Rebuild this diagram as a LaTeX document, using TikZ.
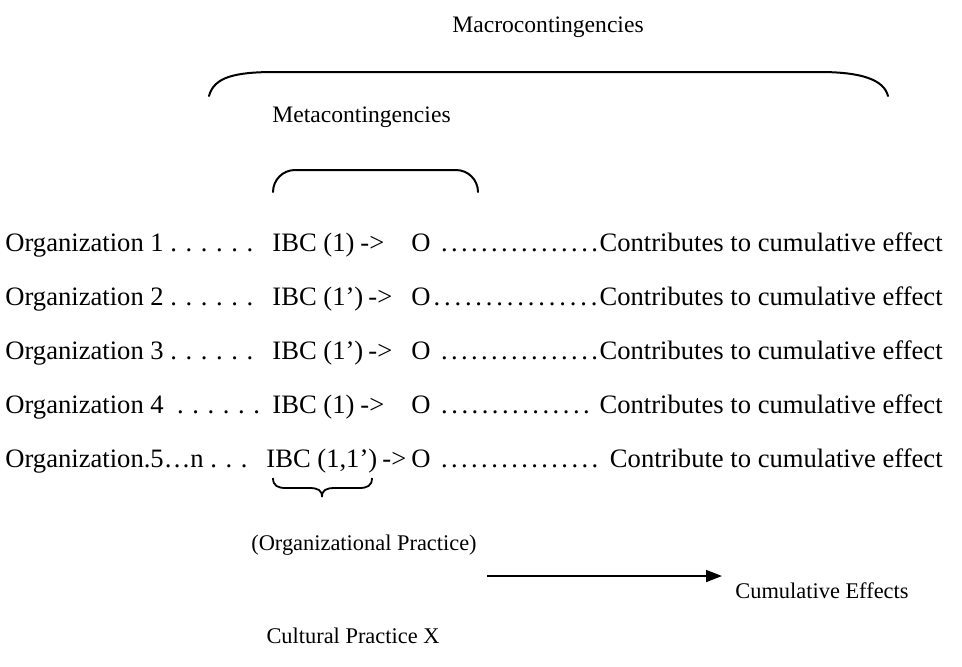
\documentclass[tikz,border=0pt]{standalone}
\usepackage{fontspec}
\setmainfont{Liberation Serif}
\usetikzlibrary{arrows.meta,calc}
\newcommand{\fs}{\fontsize{13.3}{16}\selectfont}
\newcommand{\fh}{\fontsize{11.8}{14}\selectfont}
\newcommand{\fb}{\fontsize{11.2}{13}\selectfont}
\newcommand{\od}{.\kern4.3pt}
\newcommand{\ldr}[1]{\hbox to #1{\xleaders\hbox to 5pt{\hss.\hss}\hfill}}
\begin{document}
\begin{tikzpicture}[x=0.5pt,y=-0.5pt,
  lbl/.style={inner sep=0pt, anchor=base west, font=\fs},
  lble/.style={inner sep=0pt, anchor=base east, font=\fs},
  hdr/.style={inner sep=0pt, font=\fh},
  bot/.style={inner sep=0pt, font=\fb},
  brace/.style={line width=1pt, line cap=round},
  flow/.style={line width=0.8pt, -{Triangle[length=8pt,width=6pt]}}]
\useasboundingbox (0,0) rectangle (962,666);
% headers
\node[hdr, anchor=center] (macro) at (548,27) {Macrocontingencies};
\node[hdr, anchor=west] (meta) at (272,117) {Metacontingencies};
% big bracket
\coordinate (bl) at (209,96);
\coordinate (br) at (888,96);
\draw[brace] (bl) .. controls (214,77) and (235,72) .. (275,72) -- (820,72) .. controls (862,72) and (884,80) .. (br);
% small bracket
\coordinate (sl) at (273,192);
\coordinate (sr) at (478,192);
\draw[brace, rounded corners=11pt] (sl) -- (273,170) -- (478,170) -- (sr);
% rows: index / baseline / org text / ibc text / ibc x / arrow x / gap after O / gap before C / last text
\foreach \i/\y/\org/\ibc/\bx/\ax/\ga/\gb/\cc in {
  1/251/{Organization 1 \od\od\od\od\od.}/{IBC (1)}/272/360/4pt/0pt/{Contributes to cumulative effect},
  2/305/{Organization 2 \od\od\od\od\od.}/{IBC (1’)}/272/368/0pt/0pt/{Contributes to cumulative effect},
  3/359/{Organization 3 \od\od\od\od\od.}/{IBC (1’)}/272/368/4pt/0pt/{Contributes to cumulative effect},
  4/413/{Organization 4 \ \od\od\od\od\od.}/{IBC (1)}/272/360/4pt/4pt/{Contributes to cumulative effect},
  5/467/{Organization.5…n \od\od.}/{IBC (1,1’)}/266/382/4pt/5pt/{Contribute to cumulative effect}}{
  \node[lbl] (org\i) at (5,\y) {\org};
  \node[lbl] (ibc\i) at (\bx,\y) {\ibc};
  \node[lbl] (arr\i) at (\ax,\y) {->};
  \node[lbl] (out\i) at (411,\y) {O};
  \node[lble] (con\i) at (943,\y) {\cc};
  \path let \p1=(out\i.base east), \p2=(con\i.base west) in
    node[lbl] (dot\i) at ($(\p1)+(\ga,0)$) {\ldr{\dimexpr\x2-\x1-\ga-\gb\relax}};
}
% bottom brace
\coordinate (ul) at (273,478);
\coordinate (ur) at (372,478);
\coordinate (tip) at (322,497);
\draw[line width=0.9pt] (ul) .. controls (273,486) and (278,488) .. (286,488) -- (309,488) .. controls (318,488) and (322,490) .. (tip)
  .. controls (322,490) and (326,488) .. (335,488) -- (359,488) .. controls (367,488) and (372,486) .. (ur);
% bottom texts
\node[bot, anchor=center] (orgp) at (364,545) {(Organizational Practice)};
\node[bot, anchor=center] (cult) at (353,636) {Cultural Practice X};
\node[bot, anchor=west] (cum) at (735,591) {Cumulative Effects};
\coordinate (as) at (487,576);
\coordinate (ae) at (722,576);
\draw[flow] (as) -- (ae);
\end{tikzpicture}
\end{document}
